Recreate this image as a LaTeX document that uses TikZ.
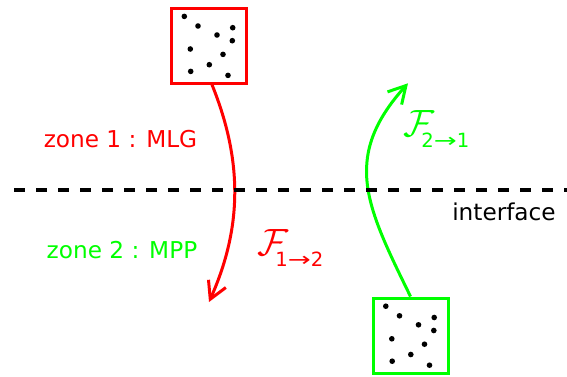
\RequirePackage{fix-cm}
\documentclass[tikz,border=0pt]{standalone}
\usepackage{fontspec}
\setmainfont{DejaVu Sans}
\usepackage{graphicx}
\usetikzlibrary{arrows.meta,positioning}
\definecolor{mlgred}{RGB}{255,0,0}
\definecolor{mppgreen}{RGB}{0,255,0}
% grain positions inside a box, offsets from its centre
\newcommand{\grains}{-24.7/29.3, -11/19.7, 23.7/18, 8/10.7, 23.3/5, -18.7/-3.3, 14/-8.7, 0.3/-19, -18.3/-25.7, 19/-29.7}
\newcommand{\fluxlabel}[2]{\makebox[9pt][l]{\fontsize{19}{23}\selectfont$\mathcal{F}$}\raisebox{-5.8pt}{\fontsize{9.8}{12}\selectfont #1\scalebox{1.4}[1]{→}#2}}

\begin{document}
\begin{tikzpicture}[x=0.5pt,y=0.5pt,
    box/.style={draw=#1,line width=1.5pt,minimum size=37.5pt,inner sep=0pt},
    zonetext/.style={anchor=base,inner sep=0pt,font=\fontsize{11.6}{14}\selectfont},
    fluxtext/.style={anchor=base west,inner sep=0pt},
    fluxarrow/.style={draw=#1,line width=1.5pt,-{Straight Barb[length=8.5pt,width=9.5pt]}},
    interfaceline/.style={draw=black,line width=2pt,dash pattern=on 5.5pt off 5.5pt}]
  \useasboundingbox (0,0) rectangle (567,376);

  % the two zones
  \node[box=mlgred] (mlg) at (209,330.3) {};
  \node[box=mppgreen] (mpp) at (410.5,40.5) {};
  \foreach \dx/\dy in \grains {
    \fill ([shift={(\dx,\dy)}]mlg.center) circle[radius=1.4pt];
    \fill ([shift={(\dx,\dy)}]mpp.center) circle[radius=1.4pt];
  }

  \node[zonetext,text=mlgred] (zone1) at (120.5,228.3) {zone 1 : MLG};
  \node[zonetext,text=mppgreen] (zone2) at (122,117.7) {zone 2 : MPP};
  \node[zonetext] (iface) at (504,156) {interface};

  % fluxes across the interface
  \coordinate (tip12) at (209,74);
  \coordinate (tip21) at (408,292.7);
  \draw[fluxarrow=mlgred] ([xshift=1.5pt]mlg.south) .. controls +(-68:82) and +(66:82) .. (tip12);
  \draw[fluxarrow=mppgreen] (mpp.north) .. controls +(116:100) and +(-132:100) .. (tip21);
  \node[fluxtext,text=mlgred] (f12) at (257,121) {\fluxlabel{1}{2}};
  \node[fluxtext,text=mppgreen] (f21) at (403,240) {\fluxlabel{2}{1}};

  \coordinate (ifl) at (14,186);
  \coordinate (ifr) at (567,186);
  \draw[interfaceline] (ifl) -- (ifr);
\end{tikzpicture}
\end{document}
